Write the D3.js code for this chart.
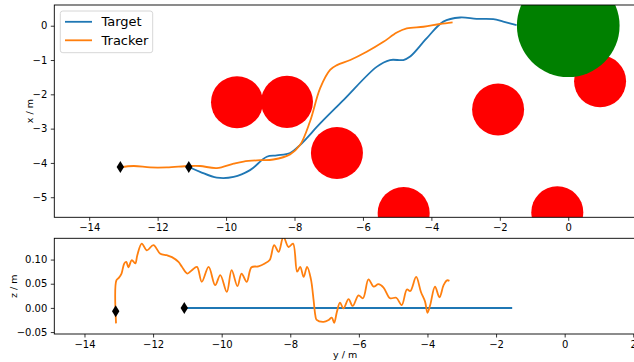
<!DOCTYPE html>
<html>
<head>
<meta charset="utf-8">
<script src="https://cdn.jsdelivr.net/npm/d3@7"></script>
<style>
  body { margin: 0; background: #fff; }
  svg { display: block; font-family: "DejaVu Sans", sans-serif; }
</style>
</head>
<body>
<div id="chart"></div>
<script>
// top panel: target path (y, x)
const targetY = [-11.09, -10.76, -10.27, -9.78, -9.3, -8.81, -8.52, -8.13, -7.84, -7.25, -6.57, -5.6, -5.21, -4.82, -4.62, -4.14, -3.65, -3.16, -2.68, -2.19, -1.9, -1.51];
const targetX = [-4.12, -4.26, -4.43, -4.41, -4.21, -3.82, -3.78, -3.71, -3.48, -2.85, -2.17, -1.2, -1.0, -1.0, -0.9, -0.37, 0.12, 0.24, 0.2, 0.19, 0.12, 0.02];

// top panel: tracker path (y, x)
const trackerY = [-13.09, -12.7, -12.22, -11.73, -11.09, -10.76, -10.27, -9.78, -9.49, -9.0, -8.62, -8.13, -7.84, -7.55, -7.25, -6.96, -6.76, -6.37, -5.89, -5.4, -5.01, -4.72, -4.23, -3.75, -3.38];
const trackerX = [-4.13, -4.09, -4.13, -4.13, -4.09, -4.09, -4.15, -4.02, -3.96, -3.92, -3.9, -3.75, -3.48, -2.8, -1.82, -1.29, -1.15, -1.0, -0.76, -0.47, -0.2, -0.08, -0.03, 0.05, 0.1];

// obstacles (y, x, radius) and goal
const obstacleY = [-9.68, -8.22, -6.76, -4.81, -2.05, -0.32, 0.93];
const obstacleX = [-2.23, -2.22, -3.71, -5.46, -2.44, -5.44, -1.62];
const obstacleR = 0.76;
const goalY = 0, goalX = 0, goalR = 1.5;

// start markers
const startY = [-13.09, -11.09];
const startX = [-4.12, -4.12];
const startZ = [-0.007, 0.0];

// bottom panel: height profiles
const targetZY = [-11.09, -1.53];
const targetZ = [0, 0];
const trackerZY = [-13.08, -13.07, -13.0, -12.92, -12.84, -12.78, -12.72, -12.62, -12.52, -12.46, -12.33, -12.18, -11.99, -11.79, -11.6, -11.45, -11.26, -11.16, -11.0, -10.87, -10.72, -10.58, -10.38, -10.19, -10.04, -9.85, -9.71, -9.54, -9.42, -9.27, -9.13, -8.93, -8.74, -8.6, -8.47, -8.34, -8.2, -8.05, -7.92, -7.8, -7.71, -7.61, -7.51, -7.4, -7.32, -7.27, -7.23, -7.03, -6.88, -6.79, -6.72, -6.64, -6.55, -6.45, -6.3, -6.18, -6.01, -5.88, -5.72, -5.57, -5.43, -5.28, -5.09, -4.91, -4.75, -4.6, -4.5, -4.33, -4.19, -4.07, -4.0, -3.92, -3.78, -3.65, -3.53, -3.43, -3.36];
const trackerZ = [-0.032, 0.057, 0.062, 0.071, 0.092, 0.095, 0.084, 0.099, 0.092, 0.109, 0.133, 0.119, 0.130, 0.112, 0.109, 0.105, 0.095, 0.085, 0.071, 0.078, 0.085, 0.054, 0.085, 0.047, 0.068, 0.033, 0.078, 0.045, 0.071, 0.054, 0.084, 0.086, 0.092, 0.099, 0.13, 0.116, 0.147, 0.126, 0.133, 0.075, 0.085, 0.064, 0.085, 0.06, 0.016, -0.015, -0.025, -0.029, -0.025, -0.020, -0.031, -0.008, 0.011, -0.001, 0.018, 0.004, 0.026, 0.020, 0.059, 0.044, 0.049, 0.042, 0.020, 0.021, 0.006, 0.038, 0.035, 0.064, 0.033, 0.013, -0.010, 0.006, 0.044, 0.022, 0.047, 0.057, 0.056];

const topXTicks = [-14, -12, -10, -8, -6, -4, -2, 0];
const botXTicks = [-14, -12, -10, -8, -6, -4, -2, 0, 2];
const topYTicks = [0, -1, -2, -3, -4, -5];
const botYTicks = [0.10, 0.05, 0.00, -0.05];

const blue = "#1f77b4", orange = "#ff7f0e";
const minus = s => String(s).replace("-", "\u2212");

const W = 634, H = 362;
const svg = d3.select("#chart").append("svg").attr("width", W).attr("height", H);

const topP = {left: 54.3, right: 636, top: 5, bottom: 217.3};
const botP = {left: 54.3, right: 636, top: 238.3, bottom: 334};

const xTop = d3.scaleLinear().domain([-15.02, 1.98]).range([topP.left, topP.right]);
const yTop = d3.scaleLinear().domain([-5.585, 0.604]).range([topP.bottom, topP.top]);
const xBot = d3.scaleLinear().domain([-14.88, 2.08]).range([botP.left, botP.right]);
const yBot = d3.scaleLinear().domain([-0.054, 0.144]).range([botP.bottom, botP.top]);

function styleAxis(g) {
  g.selectAll("path").remove();
  g.selectAll(".tick line").attr("stroke", "#000").attr("stroke-width", 0.8);
  g.selectAll(".tick text").attr("fill", "#000").style("font-size", "10px").style("font-family", "DejaVu Sans");
}

function frame(p, id) {
  svg.append("clipPath").attr("id", id).append("rect")
    .attr("x", p.left).attr("y", p.top).attr("width", p.right - p.left).attr("height", p.bottom - p.top);
}
frame(topP, "clipTop");
frame(botP, "clipBot");

// ---- top panel
const gTop = svg.append("g").attr("clip-path", "url(#clipTop)");
const line = (xs, ys) => d3.line().curve(d3.curveCatmullRom).x(d => xs(d[0])).y(d => ys(d[1]));

gTop.append("path").datum(d3.zip(targetY, targetX))
  .attr("d", line(xTop, yTop)).attr("fill", "none").attr("stroke", blue).attr("stroke-width", 1.8);
gTop.append("path").datum(d3.zip(trackerY, trackerX))
  .attr("d", line(xTop, yTop)).attr("fill", "none").attr("stroke", orange).attr("stroke-width", 1.8);

const pxPerUnit = xTop(1) - xTop(0);
gTop.selectAll(".obstacle").data(d3.zip(obstacleY, obstacleX)).enter().append("circle")
  .attr("class", "obstacle")
  .attr("cx", d => xTop(d[0])).attr("cy", d => yTop(d[1]))
  .attr("r", obstacleR * pxPerUnit).attr("fill", "red");
gTop.append("circle").attr("cx", xTop(goalY)).attr("cy", yTop(goalX))
  .attr("r", goalR * pxPerUnit).attr("fill", "green");

const diamond = "M0,-6L3.7,0L0,6L-3.7,0Z";
gTop.selectAll(".start").data(d3.zip(startY, startX)).enter().append("path")
  .attr("d", diamond).attr("fill", "#000")
  .attr("transform", d => `translate(${xTop(d[0])},${yTop(d[1])})`);

svg.append("g").attr("transform", `translate(0,${topP.bottom})`)
  .call(d3.axisBottom(xTop).tickValues(topXTicks).tickSize(3.5).tickPadding(3.5).tickFormat(minus))
  .call(styleAxis);
svg.append("g").attr("transform", `translate(${topP.left},0)`)
  .call(d3.axisLeft(yTop).tickValues(topYTicks).tickSize(3.5).tickPadding(3.5).tickFormat(minus))
  .call(styleAxis);
svg.append("rect").attr("x", topP.left).attr("y", topP.top)
  .attr("width", topP.right - topP.left).attr("height", topP.bottom - topP.top)
  .attr("fill", "none").attr("stroke", "#000").attr("stroke-width", 0.9);

svg.append("text").attr("transform", `translate(29.5,${(topP.top + topP.bottom) / 2}) rotate(-90)`)
  .attr("text-anchor", "middle").attr("dy", "0.35em").style("font-size", "9.5px").text("x / m");

// legend
const lg = svg.append("g");
lg.append("rect").attr("x", 60.3).attr("y", 11).attr("width", 92.4).attr("height", 41.7)
  .attr("rx", 2.5).attr("fill", "#fff").attr("fill-opacity", 0.8).attr("stroke", "#ccc").attr("stroke-width", 0.8);
[["Target", blue, 21.8], ["Tracker", orange, 40.3]].forEach(([name, c, y]) => {
  lg.append("line").attr("x1", 65).attr("x2", 92).attr("y1", y).attr("y2", y)
    .attr("stroke", c).attr("stroke-width", 1.8);
  lg.append("text").attr("x", 101.5).attr("y", y).attr("dy", "0.36em")
    .style("font-size", "13px").text(name);
});

// ---- bottom panel
const gBot = svg.append("g").attr("clip-path", "url(#clipBot)");
gBot.append("path").datum(d3.zip(targetZY, targetZ))
  .attr("d", line(xBot, yBot)).attr("fill", "none").attr("stroke", blue).attr("stroke-width", 2);
gBot.append("path").datum(d3.zip(trackerZY, trackerZ))
  .attr("d", line(xBot, yBot)).attr("fill", "none").attr("stroke", orange).attr("stroke-width", 1.8);
gBot.selectAll(".start").data(d3.zip(startY, startZ)).enter().append("path")
  .attr("d", diamond).attr("fill", "#000")
  .attr("transform", d => `translate(${xBot(d[0])},${yBot(d[1])})`);

svg.append("g").attr("transform", `translate(0,${botP.bottom})`)
  .call(d3.axisBottom(xBot).tickValues(botXTicks).tickSize(3.5).tickPadding(3.5).tickFormat(minus))
  .call(styleAxis);
svg.append("g").attr("transform", `translate(${botP.left},0)`)
  .call(d3.axisLeft(yBot).tickValues(botYTicks).tickSize(3.5).tickPadding(3.5).tickFormat(d => minus(d3.format(".2f")(d))))
  .call(styleAxis);
svg.append("rect").attr("x", botP.left).attr("y", botP.top)
  .attr("width", botP.right - botP.left).attr("height", botP.bottom - botP.top)
  .attr("fill", "none").attr("stroke", "#000").attr("stroke-width", 0.9);

svg.append("text").attr("transform", `translate(13.5,${(botP.top + botP.bottom) / 2}) rotate(-90)`)
  .attr("text-anchor", "middle").attr("dy", "0.35em").style("font-size", "9.5px").text("z / m");
svg.append("text").attr("x", (botP.left + botP.right) / 2).attr("y", 355)
  .attr("text-anchor", "middle").attr("dy", "0.35em").style("font-size", "9.5px").text("y / m");
</script>
</body>
</html>
